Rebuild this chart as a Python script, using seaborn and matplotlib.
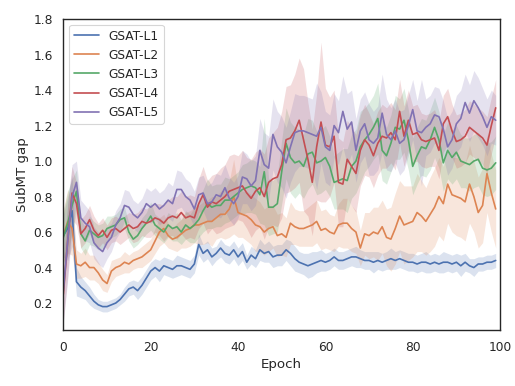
import numpy as np
import pandas as pd
import matplotlib
matplotlib.use("Agg")
import matplotlib.pyplot as plt
import seaborn as sns

# --- Data (mean SubMT gap per epoch) ---
epochs = list(range(100))
series_names = ["GSAT-L1", "GSAT-L2", "GSAT-L3", "GSAT-L4", "GSAT-L5"]

l1_mean = [0.58, 0.62, 0.72, 0.32, 0.29, 0.27, 0.24, 0.21, 0.19, 0.18,
           0.18, 0.19, 0.20, 0.22, 0.25, 0.28, 0.29, 0.27, 0.30, 0.34,
           0.38, 0.40, 0.38, 0.41, 0.40, 0.39, 0.41, 0.41, 0.40, 0.39,
           0.42, 0.53, 0.48, 0.50, 0.46, 0.48, 0.51, 0.48, 0.47, 0.50,
           0.46, 0.49, 0.43, 0.47, 0.45, 0.50, 0.48, 0.49, 0.46, 0.47,
           0.47, 0.50, 0.48, 0.45, 0.43, 0.42, 0.41, 0.42, 0.43, 0.44,
           0.43, 0.44, 0.46, 0.44, 0.44, 0.45, 0.46, 0.46, 0.45, 0.44,
           0.44, 0.43, 0.44, 0.43, 0.44, 0.45, 0.44, 0.45, 0.44, 0.43,
           0.43, 0.42, 0.43, 0.43, 0.42, 0.43, 0.42, 0.43, 0.43, 0.42,
           0.43, 0.41, 0.43, 0.41, 0.40, 0.42, 0.42, 0.43, 0.43, 0.44]
l2_mean = [0.58, 0.66, 0.62, 0.42, 0.41, 0.43, 0.40, 0.40, 0.37, 0.33,
           0.31, 0.38, 0.40, 0.41, 0.43, 0.42, 0.44, 0.45, 0.46, 0.48,
           0.50, 0.55, 0.60, 0.62, 0.58, 0.56, 0.57, 0.59, 0.61, 0.62,
           0.64, 0.64, 0.65, 0.66, 0.66, 0.68, 0.70, 0.70, 0.73, 0.80,
           0.71, 0.70, 0.69, 0.67, 0.64, 0.63, 0.60, 0.62, 0.63, 0.58,
           0.59, 0.57, 0.65, 0.63, 0.62, 0.62, 0.63, 0.64, 0.66, 0.61,
           0.62, 0.60, 0.59, 0.64, 0.65, 0.65, 0.62, 0.60, 0.51, 0.59,
           0.58, 0.60, 0.59, 0.63, 0.57, 0.56, 0.62, 0.69, 0.64, 0.65,
           0.66, 0.71, 0.69, 0.66, 0.70, 0.74, 0.80, 0.76, 0.87, 0.81,
           0.80, 0.79, 0.77, 0.87, 0.80, 0.71, 0.75, 0.93, 0.82, 0.73]
l3_mean = [0.57, 0.65, 0.75, 0.83, 0.59, 0.55, 0.61, 0.59, 0.57, 0.58,
           0.62, 0.63, 0.64, 0.67, 0.68, 0.60, 0.56, 0.58, 0.62, 0.65,
           0.69, 0.64, 0.62, 0.60, 0.64, 0.62, 0.63, 0.60, 0.64, 0.62,
           0.64, 0.67, 0.72, 0.76, 0.74, 0.75, 0.75, 0.78, 0.78, 0.80,
           0.82, 0.84, 0.85, 0.86, 0.85, 0.81, 0.94, 0.74, 0.74, 0.76,
           0.94, 1.10, 1.02, 0.99, 1.00, 0.97, 1.04, 1.05, 0.99, 1.00,
           1.02, 0.97, 0.88, 0.89, 0.90, 0.89, 0.97, 1.00, 1.08, 1.12,
           1.15, 1.19, 1.24, 1.06, 1.03, 1.10, 1.19, 1.18, 1.23, 1.12,
           0.97, 1.03, 1.08, 1.07, 1.12, 1.19, 1.12, 0.99, 1.06, 1.02,
           1.05, 1.00, 0.99, 0.98, 1.00, 1.01, 0.96, 0.95, 0.96, 0.99]
l4_mean = [0.25, 0.55, 0.82, 0.76, 0.59, 0.62, 0.67, 0.61, 0.58, 0.61,
           0.57, 0.61, 0.62, 0.60, 0.62, 0.64, 0.62, 0.63, 0.66, 0.65,
           0.66, 0.68, 0.67, 0.65, 0.68, 0.69, 0.68, 0.71, 0.68, 0.69,
           0.68, 0.76, 0.81, 0.74, 0.77, 0.76, 0.78, 0.80, 0.83, 0.84,
           0.85, 0.86, 0.82, 0.79, 0.83, 0.85, 0.80, 0.88, 0.90, 0.91,
           0.98, 1.12, 1.13, 1.17, 1.23, 1.12, 1.01, 0.88, 1.08, 1.22,
           1.09, 1.08, 1.14, 0.88, 0.87, 1.01, 0.97, 0.93, 1.06, 1.12,
           1.09, 1.03, 1.10, 1.14, 1.13, 1.16, 1.12, 1.28, 1.14, 1.23,
           1.15, 1.16, 1.12, 1.11, 1.12, 1.13, 1.06, 1.21, 1.25, 1.17,
           1.11, 1.12, 1.14, 1.19, 1.17, 1.15, 1.13, 1.09, 1.20, 1.30]
l5_mean = [0.27, 0.55, 0.80, 0.88, 0.68, 0.65, 0.63, 0.54, 0.51, 0.49,
           0.54, 0.57, 0.64, 0.68, 0.75, 0.74, 0.70, 0.68, 0.71, 0.76,
           0.74, 0.76, 0.73, 0.75, 0.78, 0.76, 0.84, 0.84, 0.80, 0.78,
           0.73, 0.81, 0.82, 0.76, 0.77, 0.81, 0.80, 0.85, 0.79, 0.76,
           0.80, 0.91, 0.90, 0.86, 0.89, 1.06, 0.98, 0.96, 1.15, 1.08,
           1.05, 0.99, 1.08, 1.16, 1.17, 1.17, 1.16, 1.15, 1.14, 1.19,
           1.08, 1.06, 1.20, 1.16, 1.28, 1.18, 1.22, 1.06, 1.17, 1.21,
           1.12, 1.10, 1.13, 1.27, 1.15, 1.12, 1.17, 1.10, 1.12, 1.20,
           1.29, 1.17, 1.16, 1.19, 1.21, 1.26, 1.25, 1.18, 1.08, 1.12,
           1.21, 1.24, 1.33, 1.27, 1.34, 1.30, 1.25, 1.19, 1.25, 1.23]

# half-width of the confidence band around each mean
l1_band = [0.12, 0.18, 0.20, 0.08, 0.06, 0.05, 0.05, 0.04, 0.03, 0.03,
           0.03, 0.03, 0.03, 0.03, 0.04, 0.04, 0.04, 0.05, 0.05, 0.05,
           0.05, 0.05, 0.06, 0.05, 0.05, 0.05, 0.06, 0.05, 0.05, 0.05,
           0.05, 0.06, 0.05, 0.05, 0.05, 0.04, 0.05, 0.05, 0.05, 0.05,
           0.05, 0.05, 0.04, 0.05, 0.05, 0.06, 0.05, 0.06, 0.06, 0.06,
           0.06, 0.06, 0.07, 0.07, 0.06, 0.06, 0.07, 0.07, 0.06, 0.06,
           0.05, 0.05, 0.05, 0.05, 0.05, 0.05, 0.05, 0.06, 0.05, 0.05,
           0.05, 0.06, 0.05, 0.05, 0.05, 0.06, 0.05, 0.05, 0.05, 0.05,
           0.05, 0.05, 0.05, 0.06, 0.05, 0.05, 0.05, 0.06, 0.05, 0.05,
           0.05, 0.06, 0.05, 0.04, 0.05, 0.04, 0.04, 0.04, 0.04, 0.04]
l2_band = [0.15, 0.18, 0.15, 0.08, 0.07, 0.08, 0.07, 0.07, 0.06, 0.06,
           0.05, 0.06, 0.05, 0.05, 0.06, 0.05, 0.05, 0.05, 0.06, 0.06,
           0.06, 0.07, 0.08, 0.08, 0.07, 0.06, 0.08, 0.08, 0.10, 0.10,
           0.10, 0.11, 0.12, 0.12, 0.14, 0.12, 0.13, 0.14, 0.16, 0.21,
           0.14, 0.13, 0.14, 0.14, 0.15, 0.14, 0.13, 0.13, 0.12, 0.12,
           0.12, 0.11, 0.12, 0.10, 0.10, 0.10, 0.11, 0.12, 0.12, 0.11,
           0.11, 0.10, 0.10, 0.12, 0.14, 0.14, 0.13, 0.12, 0.10, 0.12,
           0.13, 0.14, 0.15, 0.15, 0.16, 0.18, 0.20, 0.20, 0.22, 0.21,
           0.20, 0.22, 0.20, 0.19, 0.21, 0.22, 0.22, 0.21, 0.22, 0.21,
           0.22, 0.22, 0.22, 0.22, 0.20, 0.20, 0.21, 0.22, 0.22, 0.22]
l3_band = [0.15, 0.18, 0.15, 0.12, 0.08, 0.08, 0.08, 0.07, 0.07, 0.07,
           0.07, 0.06, 0.06, 0.06, 0.06, 0.05, 0.05, 0.05, 0.06, 0.06,
           0.08, 0.06, 0.06, 0.06, 0.07, 0.07, 0.08, 0.07, 0.08, 0.08,
           0.10, 0.10, 0.12, 0.14, 0.12, 0.12, 0.12, 0.13, 0.12, 0.12,
           0.12, 0.14, 0.14, 0.15, 0.15, 0.16, 0.30, 0.16, 0.15, 0.16,
           0.18, 0.20, 0.20, 0.20, 0.18, 0.18, 0.20, 0.18, 0.18, 0.18,
           0.18, 0.17, 0.15, 0.16, 0.17, 0.18, 0.18, 0.18, 0.20, 0.18,
           0.18, 0.18, 0.20, 0.17, 0.16, 0.16, 0.18, 0.17, 0.18, 0.17,
           0.16, 0.16, 0.16, 0.16, 0.17, 0.17, 0.16, 0.16, 0.16, 0.15,
           0.15, 0.15, 0.14, 0.15, 0.15, 0.15, 0.15, 0.15, 0.15, 0.15]
l4_band = [0.15, 0.20, 0.15, 0.12, 0.08, 0.08, 0.08, 0.08, 0.07, 0.07,
           0.07, 0.07, 0.07, 0.07, 0.07, 0.07, 0.08, 0.08, 0.08, 0.08,
           0.09, 0.08, 0.09, 0.10, 0.10, 0.11, 0.12, 0.12, 0.12, 0.12,
           0.12, 0.14, 0.16, 0.15, 0.15, 0.17, 0.18, 0.18, 0.20, 0.20,
           0.18, 0.20, 0.20, 0.22, 0.22, 0.22, 0.24, 0.25, 0.26, 0.28,
           0.30, 0.30, 0.30, 0.32, 0.35, 0.40, 0.32, 0.30, 0.30, 0.45,
           0.32, 0.28, 0.26, 0.25, 0.24, 0.22, 0.22, 0.22, 0.20, 0.20,
           0.18, 0.18, 0.18, 0.18, 0.17, 0.17, 0.17, 0.18, 0.17, 0.17,
           0.16, 0.16, 0.15, 0.15, 0.15, 0.16, 0.16, 0.16, 0.16, 0.15,
           0.15, 0.15, 0.15, 0.15, 0.15, 0.15, 0.15, 0.16, 0.16, 0.16]
l5_band = [0.18, 0.22, 0.18, 0.12, 0.10, 0.10, 0.09, 0.09, 0.09, 0.09,
           0.09, 0.08, 0.08, 0.08, 0.09, 0.09, 0.08, 0.08, 0.08, 0.09,
           0.09, 0.09, 0.09, 0.09, 0.10, 0.10, 0.11, 0.10, 0.10, 0.10,
           0.10, 0.10, 0.10, 0.10, 0.11, 0.12, 0.12, 0.13, 0.12, 0.12,
           0.12, 0.15, 0.14, 0.14, 0.14, 0.18, 0.18, 0.18, 0.20, 0.20,
           0.20, 0.20, 0.20, 0.22, 0.20, 0.20, 0.20, 0.20, 0.30, 0.20,
           0.20, 0.20, 0.18, 0.18, 0.20, 0.20, 0.18, 0.18, 0.18, 0.18,
           0.20, 0.18, 0.18, 0.22, 0.20, 0.18, 0.18, 0.18, 0.17, 0.17,
           0.17, 0.17, 0.30, 0.16, 0.16, 0.16, 0.16, 0.16, 0.16, 0.16,
           0.16, 0.16, 0.16, 0.16, 0.17, 0.17, 0.16, 0.16, 0.15, 0.14]

means = [l1_mean, l2_mean, l3_mean, l4_mean, l5_mean]
bands = [l1_band, l2_band, l3_band, l4_band, l5_band]

# long-form table for seaborn
frames = []
for name, m, b in zip(series_names, means, bands):
    frames.append(pd.DataFrame({"Epoch": epochs, "SubMT gap": m, "band": b, "model": name}))
df = pd.concat(frames, ignore_index=True)

sns.set_theme(style="white")
palette = sns.color_palette("deep", len(series_names))

fig, ax = plt.subplots(figsize=(5.15 * 1.25, 3.86 * 1.25), dpi=80)
sns.lineplot(data=df, x="Epoch", y="SubMT gap", hue="model", palette=palette,
             errorbar=None, ax=ax)

for name, color in zip(series_names, palette):
    d = df[df["model"] == name]
    ax.fill_between(d["Epoch"], d["SubMT gap"] - d["band"], d["SubMT gap"] + d["band"],
                    color=color, alpha=0.2, linewidth=0)

ax.set_xlim(0, 100)
ax.set_ylim(0.048, 1.803)
ax.legend(loc="upper left", title=None)
fig.subplots_adjust(left=0.123, right=0.971, top=0.952, bottom=0.145)
fig.savefig("out.png", dpi=80)
